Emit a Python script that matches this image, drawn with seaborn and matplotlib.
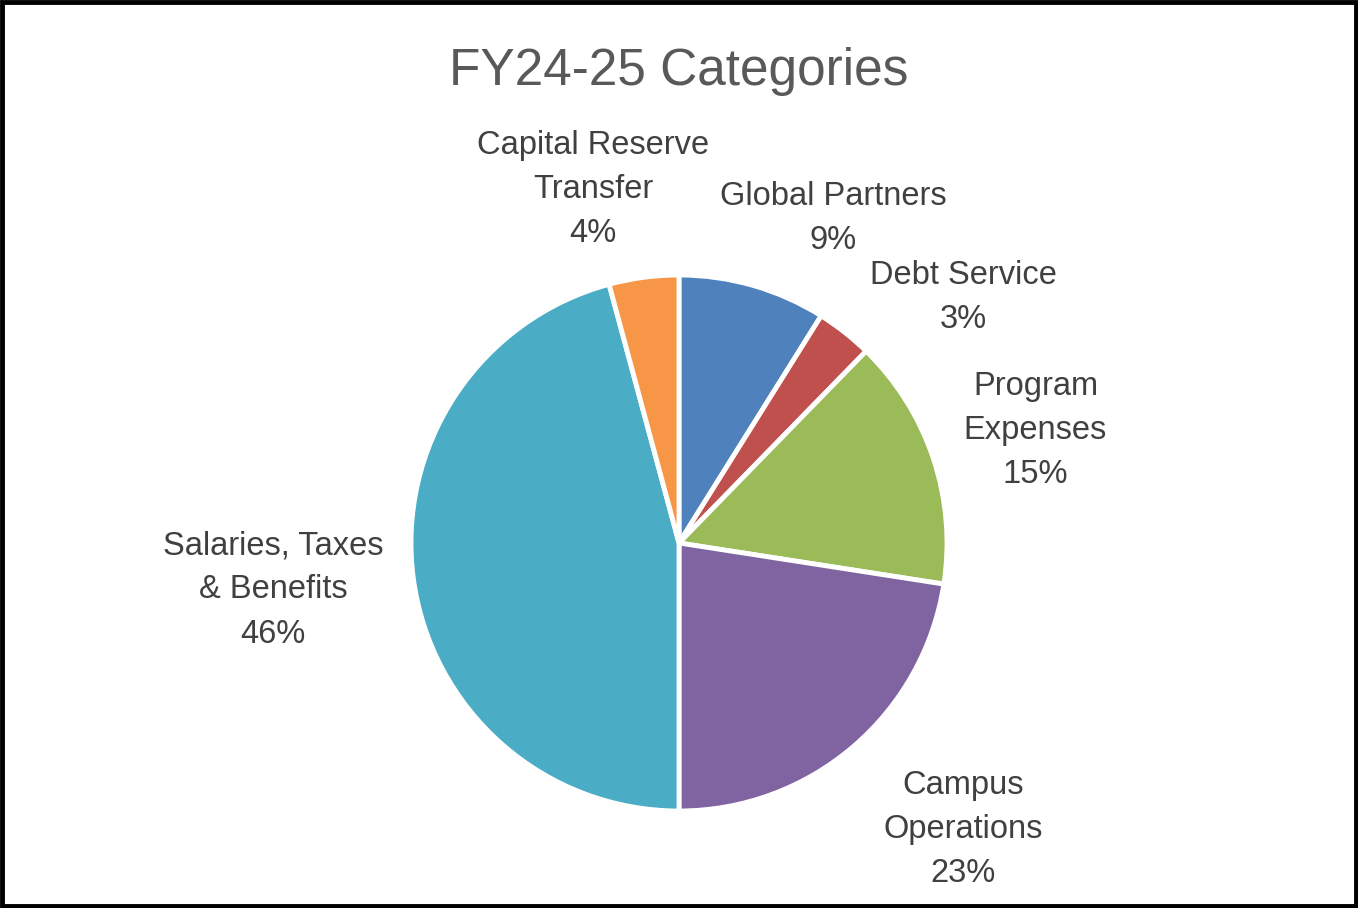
import matplotlib
matplotlib.use("Agg")
import matplotlib.pyplot as plt
import matplotlib.patches as patches
import seaborn as sns

# slices, clockwise from 12 o'clock
categories = ["Global Partners", "Debt Service", "Program\nExpenses",
              "Campus\nOperations", "Salaries, Taxes\n& Benefits",
              "Capital Reserve\nTransfer"]
shares = [8.9, 3.4, 15.15, 22.55, 45.8, 4.2]
colors = ["#4F81BD", "#C0504D", "#9BBB59", "#8064A2", "#4BACC6", "#F79646"]

# label centres, in pie-radius units
label_x = [0.575, 1.06, 1.33, 1.06, -1.515, -0.32]
label_y = [1.21, 0.915, 0.42, -1.07, -0.175, 1.32]

sns.set_theme(style="white")
plt.rcParams['font.family'] = ['Liberation Sans', 'DejaVu Sans']

fig = plt.figure(figsize=(13.58, 9.08), dpi=100)
ax = fig.add_axes([0, 0, 1, 1])

ax.pie(shares, colors=colors, startangle=90, counterclock=False,
       radius=1.0, center=(0, 0),
       wedgeprops=dict(edgecolor="white", linewidth=3.5))

total = sum(shares)
for name, val, x, y in zip(categories, shares, label_x, label_y):
    ax.text(x, y, f"{name}\n{round(100 * val / total)}%", ha="center", va="center",
            fontsize=23.5, color="#404040", linespacing=1.55)

# map pixels 1:1 -> centre at (679, 543), radius 268 px
px = 268.0
ax.set_xlim(-679 / px, (1358 - 679) / px)
ax.set_ylim(-(908 - 543) / px, 543 / px)
ax.set_aspect("auto")
ax.axis("off")

fig.text(0.5, 1 - 71 / 908, "FY24-25 Categories", ha="center", va="center",
         fontsize=37, color="#595959")

fig.patches.append(patches.Rectangle((0.0015, 0.0025), 0.997, 0.995,
                                     transform=fig.transFigure, fill=False,
                                     edgecolor="black", linewidth=3.5))

fig.savefig("out.png", dpi=100)
